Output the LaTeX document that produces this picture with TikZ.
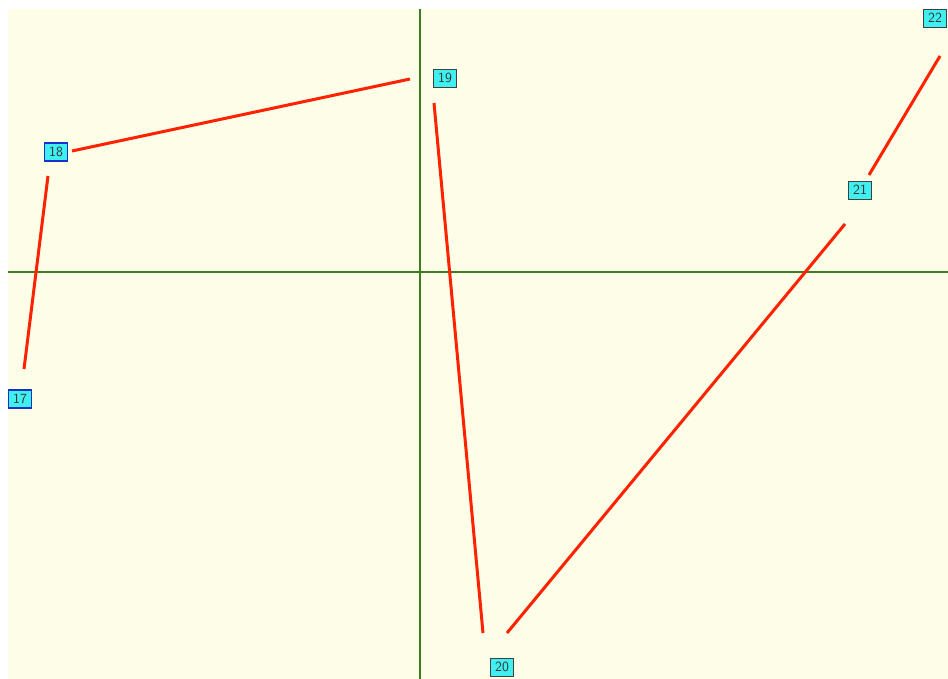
\documentclass[tikz,border=0pt]{standalone}
\definecolor{bgyel}{RGB}{254,253,232}
\definecolor{segred}{RGB}{255,34,0}
\definecolor{axgreen}{RGB}{60,125,30}
\definecolor{lblcyan}{RGB}{64,240,240}
\definecolor{selblue}{RGB}{20,50,200}
\begin{document}
\begin{tikzpicture}[x=1pt,y=-1pt,
  lbl/.style={draw=black!75,fill=lblcyan,line width=0.9pt,font=\sffamily\fontsize{14}{14}\selectfont,text=black!80,inner sep=0pt,minimum width=23pt,minimum height=18pt},
  lblsel/.style={lbl,draw=selblue,line width=1.4pt},
  seg/.style={draw=segred,line width=3pt},
  axis/.style={draw=axgreen,line width=1.5pt}]
\useasboundingbox (0,0) rectangle (948,679);
\fill[bgyel] (8,9) rectangle (948,679);
\coordinate (ax1) at (420,9); \coordinate (ax2) at (420,679);
\coordinate (ay1) at (8,272); \coordinate (ay2) at (948,272);
\draw[axis] (ax1) -- (ax2);
\draw[axis] (ay1) -- (ay2);
\node[lblsel] (n17) at (20,399) {17};
\node[lblsel] (n18) at (56,152) {18};
\node[lbl] (n19) at (445,78) {19};
\node[lbl] (n20) at (502,667) {20};
\node[lbl] (n21) at (860,190) {21};
\node[lbl] (n22) at (935,18) {22};
\coordinate (a1) at (24,369); \coordinate (a2) at (48,176);
\coordinate (b1) at (72,151); \coordinate (b2) at (410,79);
\coordinate (c1) at (434,103); \coordinate (c2) at (483,633);
\coordinate (d1) at (507,633); \coordinate (d2) at (845,224);
\coordinate (e1) at (869,175); \coordinate (e2) at (940,56);
\draw[seg] (a1) -- (a2);
\draw[seg] (b1) -- (b2);
\draw[seg] (c1) -- (c2);
\draw[seg] (d1) -- (d2);
\draw[seg] (e1) -- (e2);
\end{tikzpicture}
\end{document}
